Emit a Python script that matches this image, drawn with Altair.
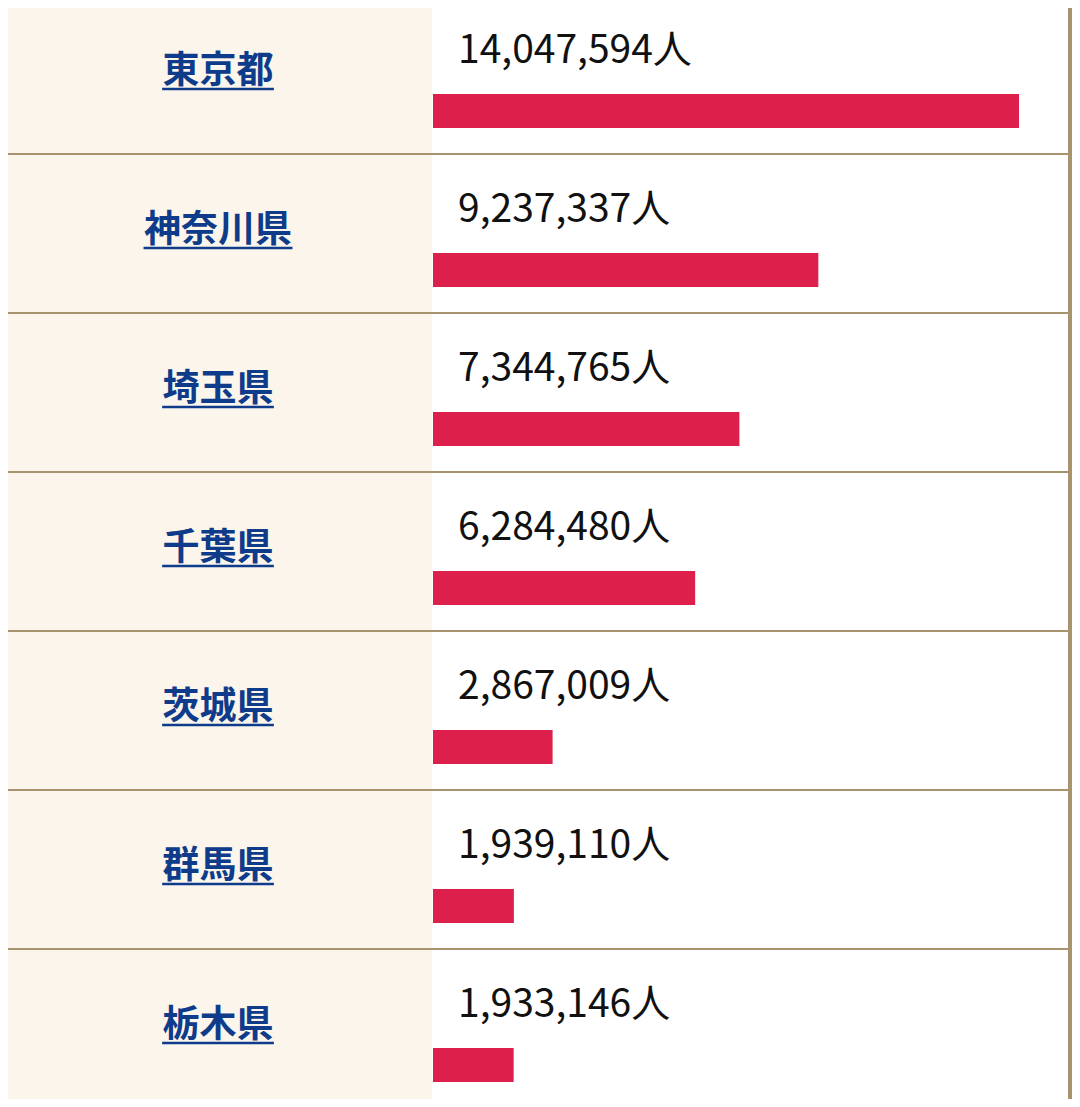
import altair as alt
import pandas as pd

prefs = ["東京都", "神奈川県", "埼玉県", "千葉県", "茨城県", "群馬県", "栃木県"]
pops = [14047594, 9237337, 7344765, 6284480, 2867009, 1939110, 1933146]

df = pd.DataFrame({"pref": prefs, "pop": pops})

W, H = 1064, 1091
FONT = "Noto Sans CJK JP"
BEIGE = "#FBF5EC"
BROWN = "#A8936F"
RED = "#DC1F4B"
BLUE = "#0E3C8A"

yscale = alt.Scale(domain=prefs, range=[-13, -13 + 159 * 7], paddingInner=0, paddingOuter=0)
yband = alt.Y("pref:N", sort=prefs, axis=None, scale=yscale)
base = alt.Chart(df)

bg = base.mark_rect(color=BEIGE).encode(
    x=alt.value(0), x2=alt.value(424), y=yband
)

sep = base.mark_rule(color=BROWN, strokeWidth=2).encode(
    x=alt.value(0), x2=alt.value(1068),
    y=alt.Y("pref:N", sort=prefs, axis=None, bandPosition=1, scale=yscale),
)

bars = base.mark_bar(color=RED, size=34, yOffset=36.5).encode(
    x=alt.X("pop:Q", axis=None, scale=alt.Scale(domain=[0, max(pops)], range=[425, 1011])),
    x2=alt.datum(0),
    y=yband,
)

vals = base.transform_calculate(
    lbl="format(datum.pop, ',') + '人'"
).mark_text(font=FONT, fontSize=39, color="#111111", align="left",
            baseline="alphabetic", dy=-11.5).encode(
    x=alt.value(450), y=yband, text="lbl:N"
)

names = base.mark_text(font=FONT, fontSize=37, fontWeight="bold", color=BLUE,
                       align="center", baseline="middle", dy=-2.5).encode(
    x=alt.value(210), y=yband, text="pref:N"
)

under = base.transform_calculate(
    ux1="210 - length(datum.pref) * 37.25 / 2",
    ux2="210 + length(datum.pref) * 37.25 / 2",
).mark_rule(color=BLUE, strokeWidth=2.5, yOffset=14.5).encode(
    x=alt.X("ux1:Q", scale=None, axis=None), x2="ux2:Q", y=yband
)

border = base.mark_rule(color=BROWN, strokeWidth=4).encode(
    x=alt.value(1062), y=alt.value(0), y2=alt.value(H)
)

chart = alt.layer(bg, sep, bars, vals, names, under, border).properties(
    width=W, height=H, padding=0,
    autosize=alt.AutoSizeParams(type="none"),
    background="white",
).configure_view(stroke=None)

chart.save("out.html", embed_options={"renderer": "svg", "actions": False})
